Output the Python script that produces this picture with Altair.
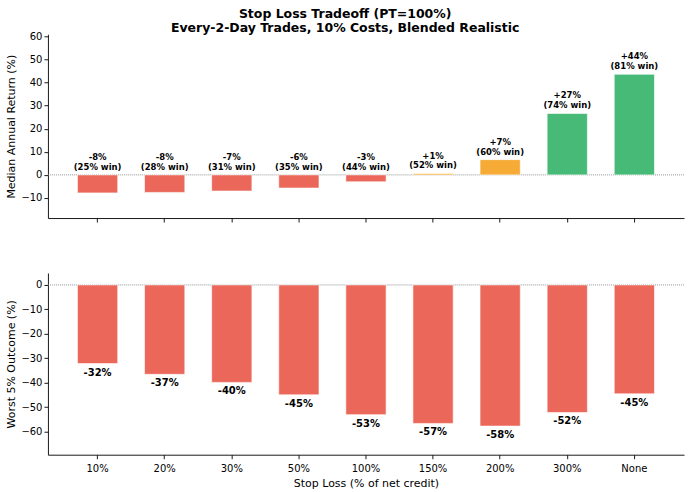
import altair as alt
import pandas as pd

categories = ["10%", "20%", "30%", "50%", "100%", "150%", "200%", "300%", "None"]
median_return = [-7.8, -7.6, -7.0, -5.7, -3.0, 0.6, 6.6, 26.6, 43.6]
win_rate = [25, 28, 31, 35, 44, 52, 60, 74, 81]
worst_5pct = [-32.2, -36.6, -39.9, -45.0, -53.1, -56.7, -57.8, -52.2, -44.6]
top_ticks = [-10, 0, 10, 20, 30, 40, 50, 60]
bottom_ticks = [0, -10, -20, -30, -40, -50, -60]

df = pd.DataFrame({"stop": categories, "median": median_return, "win": win_rate, "worst": worst_5pct})
df["ret_label"] = [f"{m:+.0f}%" for m in median_return]
df["win_label"] = [f"({w}% win)" for w in win_rate]
df["bottom_label"] = [f"{v:.0f}%" for v in worst_5pct]

RED = "#eb675a"
ORANGE = "#f5ab35"
GREEN = "#47ba78"
FONT = "DejaVu Sans"

xscale = alt.Scale(paddingInner=0.4, paddingOuter=0.44)
zero_df = pd.DataFrame({"z": [0]})

# ---------- top panel ----------
base_top = alt.Chart(df).transform_calculate(
    tier="datum.median < 0 ? 'neg' : (datum.median < 10 ? 'mid' : 'pos')",
    label_y="max(datum.median, 0)",
)
x_top = alt.X("stop:N", sort=categories, scale=xscale,
              axis=alt.Axis(labels=False, title=None, ticks=True, domain=True))
y_scale_top = alt.Scale(domain=[-18.7, 60.9], nice=False, zero=False)
y_axis_top = alt.Axis(values=top_ticks, grid=False, labelOverlap=False, labelFlush=False,
                      title="Median Annual Return (%)")

bars_top = base_top.mark_bar(stroke="white", strokeWidth=0.6).encode(
    x=x_top,
    y=alt.Y("median:Q", scale=y_scale_top, axis=y_axis_top),
    y2=alt.datum(0),
    color=alt.Color("tier:N", scale=alt.Scale(domain=["neg", "mid", "pos"], range=[RED, ORANGE, GREEN]),
                    legend=None),
)
rule_top = alt.Chart(zero_df).mark_rule(color="#888888", strokeWidth=0.9, strokeDash=[1, 1]).encode(
    y=alt.Y("z:Q", scale=y_scale_top, axis=y_axis_top)
)
text_top1 = base_top.mark_text(baseline="bottom", dy=-13, fontWeight="bold",
                               fontSize=8.5, font=FONT, color="black").encode(
    x=x_top,
    y=alt.Y("label_y:Q", scale=y_scale_top, axis=y_axis_top),
    text="ret_label:N",
)
text_top2 = base_top.mark_text(baseline="bottom", dy=-3, fontWeight="bold",
                               fontSize=8.5, font=FONT, color="black").encode(
    x=x_top,
    y=alt.Y("label_y:Q", scale=y_scale_top, axis=y_axis_top),
    text="win_label:N",
)
top = alt.layer(rule_top, bars_top, text_top1, text_top2).properties(width=637, height=184)

# ---------- bottom panel ----------
x_bot = alt.X("stop:N", sort=categories, scale=xscale,
              axis=alt.Axis(labelAngle=0, labelPadding=5, title="Stop Loss (% of net credit)"))
y_scale_bot = alt.Scale(domain=[-69.5, 4.9], nice=False, zero=False)
y_axis_bot = alt.Axis(values=bottom_ticks, grid=False, labelOverlap=False, labelFlush=False,
                      title="Worst 5% Outcome (%)")

bars_bot = alt.Chart(df).mark_bar(color=RED, stroke="white", strokeWidth=0.6).encode(
    x=x_bot,
    y=alt.Y("worst:Q", scale=y_scale_bot, axis=y_axis_bot),
    y2=alt.datum(0),
)
rule_bot = alt.Chart(zero_df).mark_rule(color="#888888", strokeWidth=0.9, strokeDash=[1, 1]).encode(
    y=alt.Y("z:Q", scale=y_scale_bot, axis=y_axis_bot)
)
text_bot = alt.Chart(df).mark_text(baseline="top", dy=4, fontWeight="bold", fontSize=10,
                                   font=FONT, color="black").encode(
    x=x_bot,
    y=alt.Y("worst:Q", scale=y_scale_bot, axis=y_axis_bot),
    text="bottom_label:N",
)
bottom = alt.layer(rule_bot, bars_bot, text_bot).properties(width=637, height=182)

chart = alt.vconcat(top, bottom, spacing=50).resolve_scale(y="independent").properties(
    title=alt.TitleParams(
        ["Stop Loss Tradeoff (PT=100%)", "Every-2-Day Trades, 10% Costs, Blended Realistic"],
        fontSize=12.5, fontWeight="bold", font=FONT, anchor="middle", lineHeight=14,
        color="black", offset=-3,
    ),
    padding={"left": 5, "top": 7, "right": 5, "bottom": 2},
).configure_view(stroke=None).configure_axis(
    labelFont=FONT, titleFont=FONT, labelFontSize=10, titleFontSize=11,
    titleFontWeight="normal", labelColor="black", titleColor="black",
    domainColor="black", tickColor="black", tickSize=4, domainWidth=0.9, tickWidth=0.9,
)

chart.save("out.html", embed_options={"renderer": "svg", "actions": False})
